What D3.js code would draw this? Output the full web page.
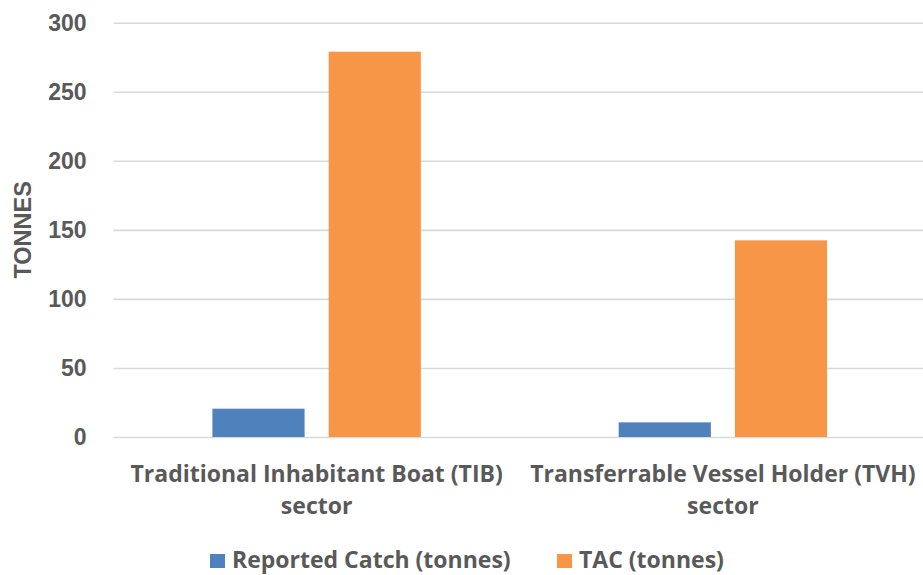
<!DOCTYPE html>
<html lang="en">
  <head>
    <meta charset="utf-8">
    <title>Catch vs TAC</title>
    <script type="text/javascript" src="https://cdn.jsdelivr.net/npm/d3@7"></script>
    <style>
      body { margin: 0; background: #fff; }
    </style>
  </head>
  <body>
    <script type="text/javascript">
    // chart data
    var categories = [
      ["Traditional Inhabitant Boat (TIB)", "sector"],
      ["Transferrable Vessel Holder (TVH)", "sector"]
    ];
    var seriesNames = ["Reported Catch (tonnes)", "TAC (tonnes)"];
    var reportedCatch = [20.5, 10.6];
    var tac = [279, 142.4];
    var yTicks = [0, 50, 100, 150, 200, 250, 300];
    var colors = ["#4F81BD", "#F79646"];

    var w = 923;
    var h = 575;
    var textColor = "#595959";
    var catFont = "'Open Sans', Lato, sans-serif";
    var numFont = "'Liberation Sans', Arial, sans-serif";

    var svg = d3.select("body")
                .append("svg")
                .attr("width", w)
                .attr("height", h);

    var catKeys = categories.map(function(c) { return c[0]; });

    // outer scale for the sector groups, inner one for the two series
    var x0 = d3.scaleBand()
               .domain(catKeys)
               .range([113.5, 926])
               .paddingInner(0.487)
               .paddingOuter(0.2435);
    var x1 = d3.scaleBand()
               .domain(seriesNames)
               .range([0, x0.bandwidth()])
               .paddingInner(0.207);
    var yScale = d3.scaleLinear()
                   .domain([0, 300])
                   .range([437, 22.7]);

    // gridlines + tick labels
    var yAxis = d3.axisLeft(yScale)
                  .tickValues(yTicks)
                  .tickSize(-(w - 113.5))
                  .tickPadding(27);
    var gy = svg.append("g")
                .attr("transform", "translate(113.5,0)")
                .call(yAxis);
    gy.select(".domain").remove();
    gy.selectAll(".tick line")
      .attr("stroke", "#D9D9D9")
      .attr("stroke-width", 1.6);
    gy.selectAll(".tick text")
      .attr("font-family", numFont)
      .attr("font-weight", "bold")
      .attr("font-size", 23)
      .attr("fill", textColor);

    // axis title
    svg.append("text")
       .text("TONNES")
       .attr("transform", "translate(31," + yScale(150) + ") rotate(-90)")
       .attr("text-anchor", "middle")
       .attr("font-family", numFont)
       .attr("font-weight", "bold")
       .attr("font-size", 23.5)
       .attr("fill", textColor);

    // bars
    var rows = catKeys.map(function(k, i) {
      return { cat: k, values: [reportedCatch[i], tac[i]] };
    });
    var groups = svg.selectAll("g.group")
                    .data(rows)
                    .enter()
                    .append("g")
                    .attr("class", "group")
                    .attr("transform", function(d) { return "translate(" + x0(d.cat) + ",0)"; });
    groups.selectAll("rect")
          .data(function(d) { return d.values; })
          .enter()
          .append("rect")
          .attr("x", function(d, i) { return x1(seriesNames[i]); })
          .attr("y", function(d) { return yScale(d); })
          .attr("width", x1.bandwidth())
          .attr("height", function(d) { return yScale(0) - yScale(d); })
          .attr("fill", function(d, i) { return colors[i]; });

    // category labels (two lines)
    var labels = svg.selectAll("text.cat")
                    .data(categories)
                    .enter()
                    .append("text")
                    .attr("class", "cat")
                    .attr("text-anchor", "middle")
                    .attr("font-family", catFont)
                    .attr("font-weight", "bold")
                    .attr("font-size", 23)
                    .attr("fill", textColor);
    labels.selectAll("tspan")
          .data(function(d) { return d; })
          .enter()
          .append("tspan")
          .attr("x", function() {
            var c = d3.select(this.parentNode).datum()[0];
            return x0(c) + x0.bandwidth() / 2;
          })
          .attr("y", function(d, i) { return 481.7 + i * 32.6; })
          .text(function(d) { return d; });

    // legend
    var legendX = [210, 557];
    var legend = svg.selectAll("g.legend")
                    .data(seriesNames)
                    .enter()
                    .append("g")
                    .attr("class", "legend")
                    .attr("transform", function(d, i) { return "translate(" + legendX[i] + ",554)"; });
    legend.append("rect")
          .attr("width", 15)
          .attr("height", 14)
          .attr("fill", function(d, i) { return colors[i]; });
    legend.append("text")
          .attr("x", 22)
          .attr("y", 14.3)
          .attr("font-family", catFont)
          .attr("font-weight", "bold")
          .attr("font-size", 23)
          .attr("fill", textColor)
          .text(function(d) { return d; });
    </script>
  </body>
</html>
